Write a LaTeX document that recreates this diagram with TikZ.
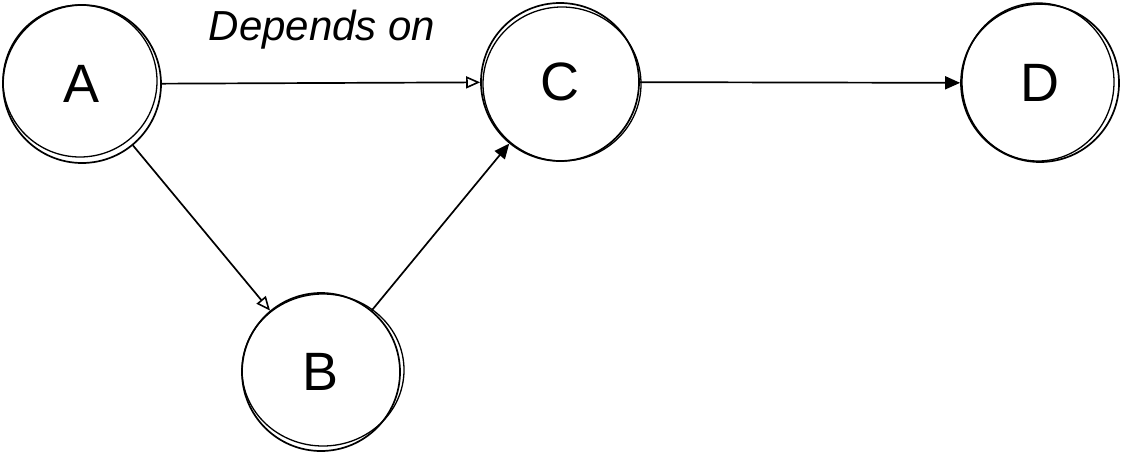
\documentclass[tikz,border=0pt]{standalone}
\usepackage{fontspec}
\setmainfont{Liberation Sans}
\usetikzlibrary{arrows.meta}
\tikzset{
  bubble/.style={circle, draw=black, line width=1.7pt, minimum size=158pt, inner sep=0pt, font=\fontsize{54}{62}\selectfont},
  sketch/.style={draw=black, line width=1.3pt},
  openarrow/.style={draw=black, line width=1.7pt, -{Triangle[open, length=14pt, width=12pt, line width=1.6pt]}},
  fullarrow/.style={draw=black, line width=1.7pt, -{Triangle[length=15pt, width=13pt]}},
  lbl/.style={font=\fontsize{42}{50}\selectfont\itshape, inner sep=0pt}
}
\begin{document}
\begin{tikzpicture}[x=1pt,y=-1pt]
\useasboundingbox (0,0) rectangle (1122,452);
\node[bubble] (A) at (82,84) {A};
\node[bubble] (C) at (560,82) {C};
\node[bubble] (D) at (1040,83) {D};
\node[bubble] (B) at (321,372) {B};
% sketchy second strokes
\draw[sketch] ([shift={(-2,-3)}]A.center) ellipse [x radius=77pt, y radius=76pt];
\draw[sketch] ([shift={(2,2)}]C.center) ellipse [x radius=79pt, y radius=77pt];
\draw[sketch] ([shift={(-2,-1)}]D.center) ellipse [x radius=76pt, y radius=79pt];
\draw[sketch] ([shift={(2,-2)}]B.center) ellipse [x radius=81pt, y radius=76pt];
\node[lbl] (L) at (322,30) {Depends on};
\draw[openarrow] (A) -- (C);
\draw[openarrow] (A) -- (B);
\draw[fullarrow] (B) -- (C);
\draw[fullarrow] (C) -- (D);
\end{tikzpicture}
\end{document}
